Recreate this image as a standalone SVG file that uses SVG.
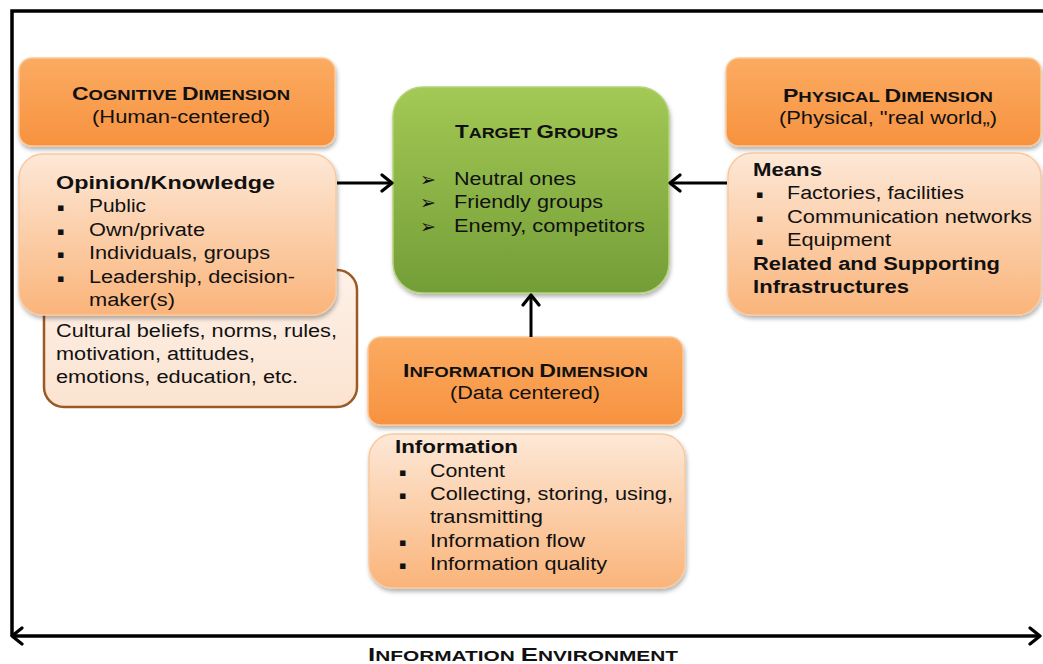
<svg xmlns="http://www.w3.org/2000/svg" width="1043" height="664" viewBox="0 0 1043 664">
<defs>
  <linearGradient id="gOrange" x1="0" y1="0" x2="0" y2="1">
    <stop offset="0" stop-color="#fbab62"/>
    <stop offset="1" stop-color="#f7923f"/>
  </linearGradient>
  <linearGradient id="gPeach" x1="0" y1="0" x2="0" y2="1">
    <stop offset="0" stop-color="#fde8d7"/>
    <stop offset="1" stop-color="#fab47a"/>
  </linearGradient>
  <linearGradient id="gCult" x1="0" y1="0" x2="0" y2="1">
    <stop offset="0" stop-color="#fdf1e8"/>
    <stop offset="1" stop-color="#fbe3d0"/>
  </linearGradient>
  <linearGradient id="gGreen" x1="0" y1="0" x2="0" y2="1">
    <stop offset="0" stop-color="#a3c955"/>
    <stop offset="1" stop-color="#739d37"/>
  </linearGradient>
  <filter id="sh" x="-10%" y="-10%" width="125%" height="135%">
    <feDropShadow dx="1" dy="3" stdDeviation="2" flood-color="#000" flood-opacity="0.3"/>
  </filter>
  <marker id="arr" viewBox="0 0 14 20" refX="12" refY="10" markerWidth="14" markerHeight="20" markerUnits="userSpaceOnUse" orient="auto-start-reverse">
    <path d="M2,2 L12,10 L2,18" fill="none" stroke="#000" stroke-width="3.2" stroke-linecap="round" stroke-linejoin="round"/>
  </marker>
  <style>
    text { font-family: "Liberation Sans", Arial, sans-serif; fill: #111; }
    .t { font-size: 18px; }
    .b { font-size: 18px; font-weight: bold; }
    .cap { font-size: 18px; font-weight: bold; }
    .sc { font-size: 14.5px; }
    .bul { font-family: "DejaVu Sans", sans-serif; font-size: 11px; }
    .arb { font-family: "DejaVu Sans", sans-serif; font-size: 19px; }
    .hdr { fill: url(#gOrange); stroke: #fbc898; stroke-width: 1.5; filter: url(#sh); }
    .cnt { fill: url(#gPeach); stroke: #f9c99e; stroke-width: 1.5; filter: url(#sh); }
    .cult { fill: url(#gCult); stroke: #9b5a24; stroke-width: 2.5; }
    .grn { fill: url(#gGreen); stroke: #b5d27a; stroke-width: 1.5; filter: url(#sh); }
    .ln { fill: none; stroke: #000; stroke-width: 3.5; }
    .con { fill: none; stroke: #000; stroke-width: 3; marker-end: url(#arr); }
  </style>
</defs>
<rect width="1043" height="664" fill="#fff"/>

<!-- Frame of information environment -->
<g id="frame">
  <path class="ln" d="M12,636 L12,11 L1043,11"/>
  <line x1="12" y1="636" x2="1040" y2="636" stroke="#000" stroke-width="3.5" marker-start="url(#arr)" marker-end="url(#arr)"/>
  <text x="368" y="661" class="cap" textLength="310" lengthAdjust="spacingAndGlyphs">I<tspan class="sc">NFORMATION </tspan>E<tspan class="sc">NVIRONMENT</tspan></text>
</g>

<!-- Cognitive dimension -->
<g id="cognitive-header">
  <rect class="hdr" x="19" y="58" width="316" height="88" rx="13"/>
  <text x="72" y="100" class="cap" textLength="218" lengthAdjust="spacingAndGlyphs">C<tspan class="sc">OGNITIVE </tspan>D<tspan class="sc">IMENSION</tspan></text>
  <text x="92" y="123" class="t" textLength="178" lengthAdjust="spacingAndGlyphs">(Human-centered)</text>
</g>

<g id="cultural">
  <rect class="cult" x="44" y="270" width="313" height="137" rx="20"/>
  <text x="56" y="337" class="t" textLength="281" lengthAdjust="spacingAndGlyphs">Cultural beliefs, norms, rules,</text>
  <text x="56" y="360" class="t" textLength="199" lengthAdjust="spacingAndGlyphs">motivation, attitudes,</text>
  <text x="56" y="383" class="t" textLength="242" lengthAdjust="spacingAndGlyphs">emotions, education, etc.</text>
</g>

<g id="opinion">
  <rect class="cnt" x="19" y="154" width="317" height="161" rx="24"/>
  <text x="56" y="189" class="b" textLength="219" lengthAdjust="spacingAndGlyphs">Opinion/Knowledge</text>
  <text x="57" y="211" class="bul">▪</text>
  <text x="89" y="212" class="t" textLength="57" lengthAdjust="spacingAndGlyphs">Public</text>
  <text x="57" y="235" class="bul">▪</text>
  <text x="89" y="236" class="t" textLength="116" lengthAdjust="spacingAndGlyphs">Own/private</text>
  <text x="57" y="258" class="bul">▪</text>
  <text x="89" y="259" class="t" textLength="181" lengthAdjust="spacingAndGlyphs">Individuals, groups</text>
  <text x="57" y="282" class="bul">▪</text>
  <text x="89" y="283" class="t" textLength="206" lengthAdjust="spacingAndGlyphs">Leadership, decision-</text>
  <text x="89" y="306" class="t" textLength="86" lengthAdjust="spacingAndGlyphs">maker(s)</text>
</g>

<!-- Target groups -->
<g id="target">
  <rect class="grn" x="393" y="87" width="276" height="206" rx="30"/>
  <text x="455" y="138" class="cap" textLength="163" lengthAdjust="spacingAndGlyphs">T<tspan class="sc">ARGET </tspan>G<tspan class="sc">ROUPS</tspan></text>
  <text x="420" y="186" class="arb">➢</text>
  <text x="454" y="185" class="t" textLength="122" lengthAdjust="spacingAndGlyphs">Neutral ones</text>
  <text x="420" y="209" class="arb">➢</text>
  <text x="454" y="208" class="t" textLength="149" lengthAdjust="spacingAndGlyphs">Friendly groups</text>
  <text x="420" y="233" class="arb">➢</text>
  <text x="454" y="232" class="t" textLength="191" lengthAdjust="spacingAndGlyphs">Enemy, competitors</text>
</g>

<!-- Physical dimension -->
<g id="physical-header">
  <rect class="hdr" x="726" y="58" width="315" height="88" rx="13"/>
  <text x="783" y="102" class="cap" textLength="210" lengthAdjust="spacingAndGlyphs">P<tspan class="sc">HYSICAL </tspan>D<tspan class="sc">IMENSION</tspan></text>
  <text x="779" y="124" class="t" textLength="218" lengthAdjust="spacingAndGlyphs">(Physical, "real world„)</text>
</g>

<g id="physical">
  <rect class="cnt" x="728" y="153" width="313" height="162" rx="24"/>
  <text x="753" y="176" class="b" textLength="69" lengthAdjust="spacingAndGlyphs">Means</text>
  <text x="756" y="198" class="bul">▪</text>
  <text x="787" y="199" class="t" textLength="177" lengthAdjust="spacingAndGlyphs">Factories, facilities</text>
  <text x="756" y="222" class="bul">▪</text>
  <text x="787" y="223" class="t" textLength="245" lengthAdjust="spacingAndGlyphs">Communication networks</text>
  <text x="756" y="245" class="bul">▪</text>
  <text x="787" y="246" class="t" textLength="104" lengthAdjust="spacingAndGlyphs">Equipment</text>
  <text x="753" y="270" class="b" textLength="247" lengthAdjust="spacingAndGlyphs">Related and Supporting</text>
  <text x="753" y="293" class="b" textLength="156" lengthAdjust="spacingAndGlyphs">Infrastructures</text>
</g>

<!-- Information dimension -->
<g id="information-header">
  <rect class="hdr" x="368" y="337" width="315" height="88" rx="13"/>
  <text x="403" y="377" class="cap" textLength="245" lengthAdjust="spacingAndGlyphs">I<tspan class="sc">NFORMATION </tspan>D<tspan class="sc">IMENSION</tspan></text>
  <text x="450" y="399" class="t" textLength="150" lengthAdjust="spacingAndGlyphs">(Data centered)</text>
</g>

<g id="information">
  <rect class="cnt" x="369" y="434" width="316" height="154" rx="24"/>
  <text x="395" y="453" class="b" textLength="123" lengthAdjust="spacingAndGlyphs">Information</text>
  <text x="399" y="476" class="bul">▪</text>
  <text x="430" y="477" class="t" textLength="75" lengthAdjust="spacingAndGlyphs">Content</text>
  <text x="399" y="499" class="bul">▪</text>
  <text x="430" y="500" class="t" textLength="243" lengthAdjust="spacingAndGlyphs">Collecting, storing, using,</text>
  <text x="430" y="523" class="t" textLength="113" lengthAdjust="spacingAndGlyphs">transmitting</text>
  <text x="399" y="546" class="bul">▪</text>
  <text x="430" y="547" class="t" textLength="155" lengthAdjust="spacingAndGlyphs">Information flow</text>
  <text x="399" y="569" class="bul">▪</text>
  <text x="430" y="570" class="t" textLength="177" lengthAdjust="spacingAndGlyphs">Information quality</text>
</g>

<!-- Connectors -->
<g id="connectors">
  <line class="con" x1="337" y1="183" x2="392" y2="183"/>
  <line class="con" x1="727" y1="183" x2="670" y2="183"/>
  <line class="con" x1="531" y1="337" x2="531" y2="295"/>
</g>
</svg>
